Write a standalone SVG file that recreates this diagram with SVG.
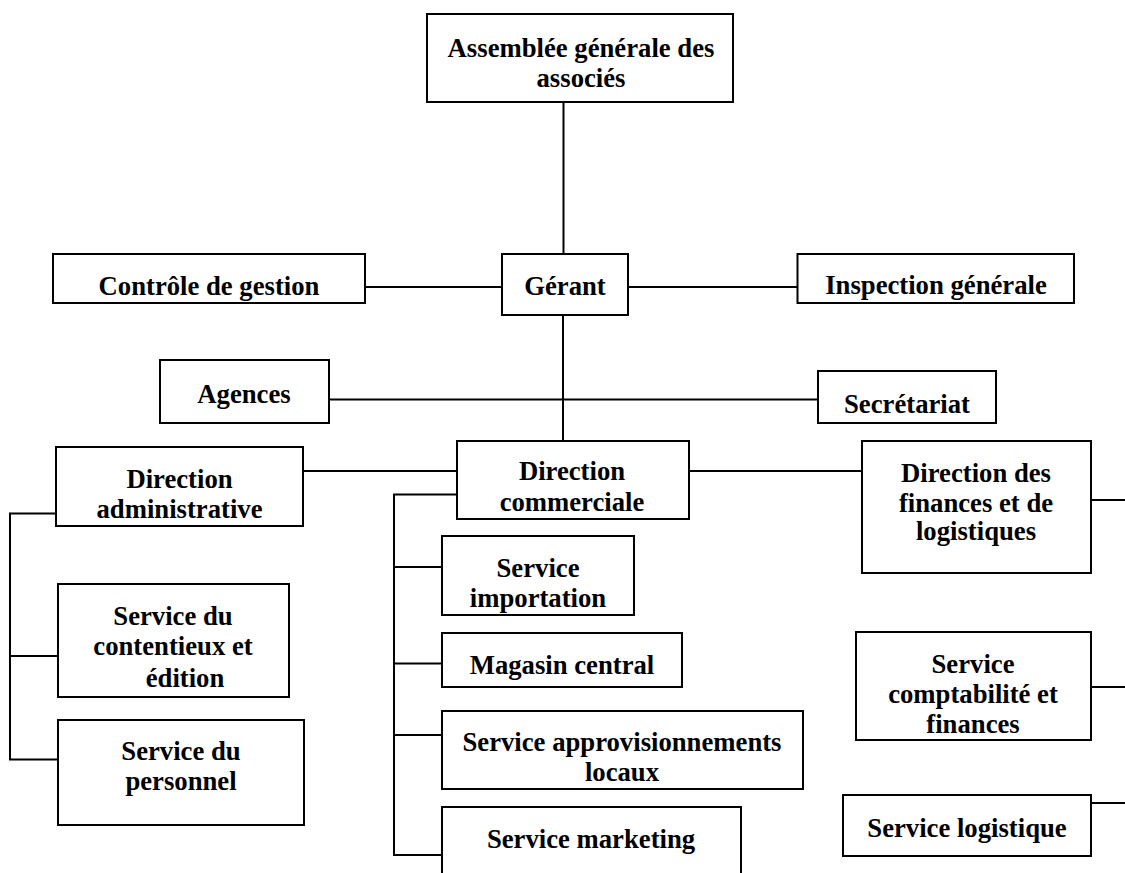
<svg xmlns="http://www.w3.org/2000/svg" width="1125" height="873" viewBox="0 0 1125 873">
  <style>
    .box { fill: #ffffff; stroke: #000000; stroke-width: 2; }
    .link { fill: none; stroke: #000000; stroke-width: 2; }
    text { font-family: "Liberation Serif", "Times New Roman", serif; font-weight: bold; font-size: 26.7px; fill: #000000; text-anchor: middle; }
  </style>
  <rect x="0" y="0" width="1125" height="873" fill="#ffffff"/>

  <!-- connectors -->
  <g id="connectors">
    <path class="link" d="M563.5 102 V254"/>
    <path class="link" d="M563 315 V441"/>
    <path class="link" d="M365 287 H502"/>
    <path class="link" d="M628 287 H797.5"/>
    <path class="link" d="M329 399.5 H818"/>
    <path class="link" d="M303 471 H457"/>
    <path class="link" d="M689 471 H862"/>
    <path class="link" d="M1091 500 H1125"/>
    <path class="link" d="M1091 687 H1125"/>
    <path class="link" d="M1091 803 H1125"/>
    <!-- administrative branch -->
    <path class="link" d="M56 513.5 H10 V759.5 H58"/>
    <path class="link" d="M10 656 H58"/>
    <!-- commercial branch -->
    <path class="link" d="M457 494.5 H394 V855 H442"/>
    <path class="link" d="M394 567 H442"/>
    <path class="link" d="M394 663.5 H442"/>
    <path class="link" d="M394 735 H442"/>
  </g>

  <g id="assemblee">
    <rect class="box" x="427" y="14" width="306" height="88"/>
    <text x="581" y="57">Assemblée générale des</text>
    <text x="581" y="87">associés</text>
  </g>
  <g id="controle-gestion">
    <rect class="box" x="53" y="254" width="312" height="49"/>
    <text x="209" y="295">Contrôle de gestion</text>
  </g>
  <g id="gerant">
    <rect class="box" x="502" y="254" width="126" height="61"/>
    <text x="565" y="295">Gérant</text>
  </g>
  <g id="inspection-generale">
    <rect class="box" x="797.5" y="254" width="276.5" height="49"/>
    <text x="936" y="294">Inspection générale</text>
  </g>
  <g id="agences">
    <rect class="box" x="160" y="360" width="169" height="63"/>
    <text x="244" y="403">Agences</text>
  </g>
  <g id="secretariat">
    <rect class="box" x="818" y="371" width="178" height="52"/>
    <text x="907" y="413">Secrétariat</text>
  </g>
  <g id="direction-administrative">
    <rect class="box" x="56" y="447" width="247" height="79"/>
    <text x="179.5" y="488">Direction</text>
    <text x="179.5" y="518">administrative</text>
  </g>
  <g id="direction-commerciale">
    <rect class="box" x="457" y="441" width="232" height="78"/>
    <text x="572" y="480">Direction</text>
    <text x="572" y="511">commerciale</text>
  </g>
  <g id="direction-finances">
    <rect class="box" x="862" y="441" width="229" height="132"/>
    <text x="976" y="481.5">Direction des</text>
    <text x="976" y="511.5">finances et de</text>
    <text x="976" y="540">logistiques</text>
  </g>
  <g id="service-contentieux">
    <rect class="box" x="58" y="584" width="231" height="113"/>
    <text x="173" y="625">Service du</text>
    <text x="173" y="655">contentieux et</text>
    <text x="185" y="686.5">édition</text>
  </g>
  <g id="service-personnel">
    <rect class="box" x="58" y="720" width="246" height="105"/>
    <text x="181" y="760">Service du</text>
    <text x="181" y="790">personnel</text>
  </g>
  <g id="service-importation">
    <rect class="box" x="442" y="536" width="192" height="79"/>
    <text x="538" y="577">Service</text>
    <text x="538" y="607">importation</text>
  </g>
  <g id="magasin-central">
    <rect class="box" x="442" y="633" width="240" height="54"/>
    <text x="562" y="674">Magasin central</text>
  </g>
  <g id="service-approvisionnements">
    <rect class="box" x="442" y="711" width="361" height="78"/>
    <text x="622" y="751">Service approvisionnements</text>
    <text x="622" y="781">locaux</text>
  </g>
  <g id="service-marketing">
    <rect class="box" x="442" y="807" width="299" height="80"/>
    <text x="591" y="848">Service marketing</text>
  </g>
  <g id="service-comptabilite">
    <rect class="box" x="856" y="632" width="235" height="108"/>
    <text x="973" y="673">Service</text>
    <text x="973" y="703">comptabilité et</text>
    <text x="973" y="733">finances</text>
  </g>
  <g id="service-logistique">
    <rect class="box" x="843" y="795" width="248" height="61"/>
    <text x="967" y="837">Service logistique</text>
  </g>
</svg>
